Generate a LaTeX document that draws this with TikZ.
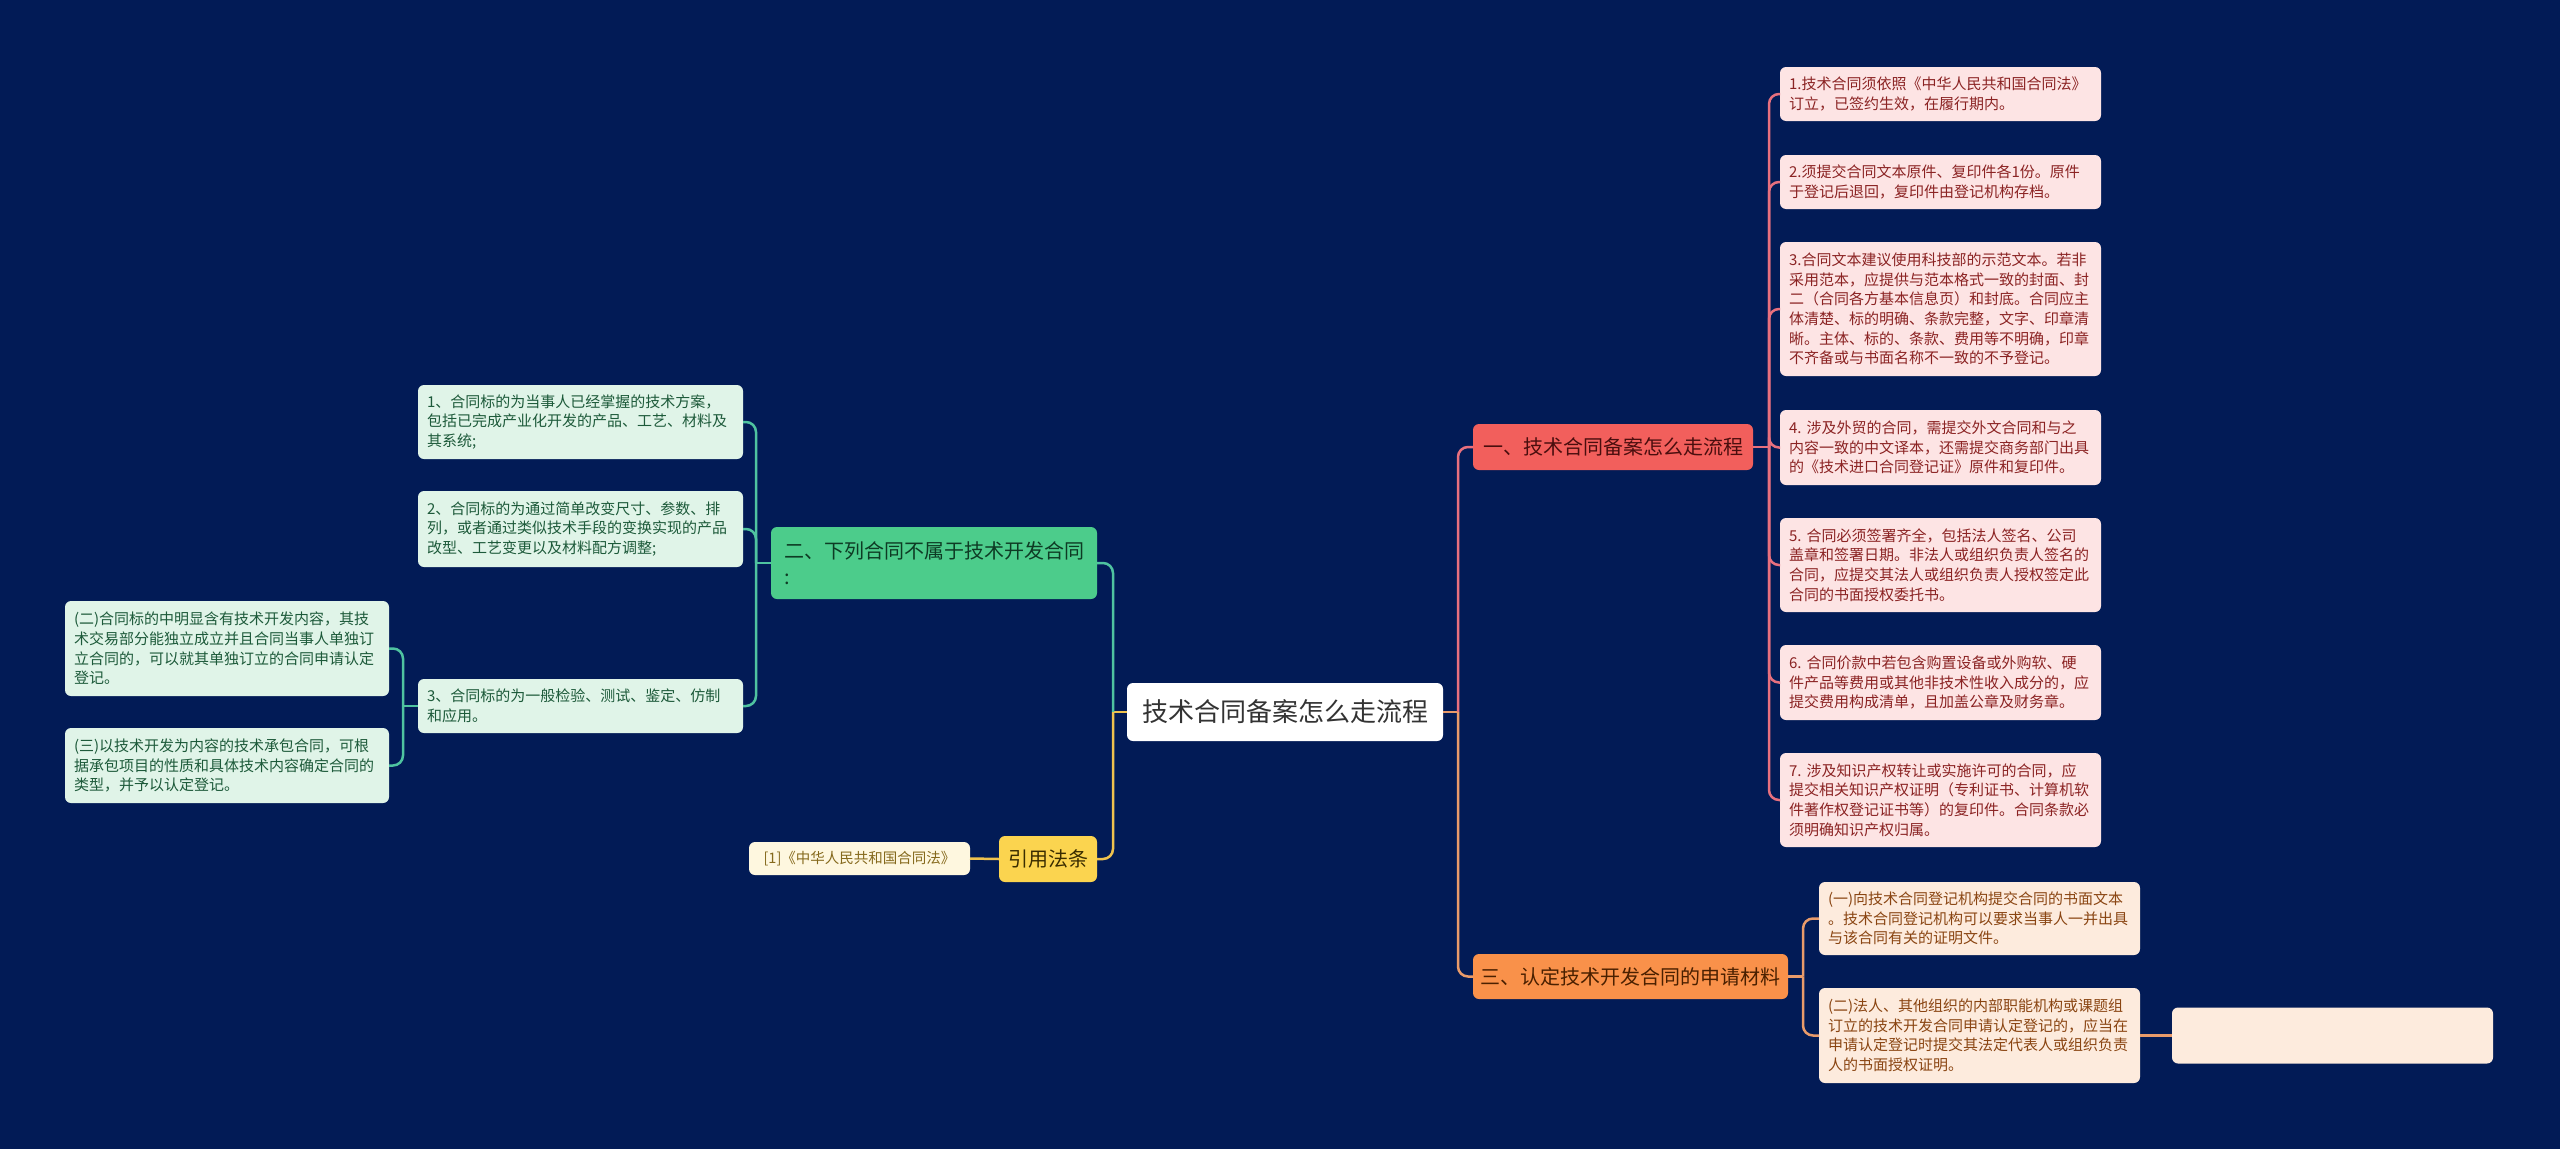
\documentclass[tikz,border=0pt]{standalone}
\usepackage{fontspec}
\setmainfont{Noto Sans CJK SC}
\definecolor{bg}{HTML}{021B56}
\definecolor{rootText}{HTML}{333333}
\definecolor{redFill}{HTML}{F25F5C}
\definecolor{redText}{HTML}{4A0E0E}
\definecolor{redLeaf}{HTML}{FDE4E4}
\definecolor{redLeafText}{HTML}{8B2323}
\definecolor{redLine}{HTML}{E8707E}
\definecolor{orFill}{HTML}{F9914A}
\definecolor{orText}{HTML}{4A2000}
\definecolor{orLeaf}{HTML}{FDEBDD}
\definecolor{orLeafText}{HTML}{8A4512}
\definecolor{orLine}{HTML}{E99B6A}
\definecolor{grFill}{HTML}{4CCC8B}
\definecolor{grText}{HTML}{0E3B24}
\definecolor{grLeaf}{HTML}{E0F4E8}
\definecolor{grLeafText}{HTML}{1D5A3A}
\definecolor{grLine}{HTML}{4FC3A0}
\definecolor{yeFill}{HTML}{FBD44F}
\definecolor{yeText}{HTML}{3A2D00}
\definecolor{yeLeaf}{HTML}{FEF7DF}
\definecolor{yeLeafText}{HTML}{85691C}
\definecolor{yeLine}{HTML}{EFC24E}
\tikzset{
  boxbase/.style={rectangle, rounded corners=6pt, inner ysep=0pt, outer sep=0pt, anchor=west},
  rootbox/.style={boxbase, fill=white, text=rootText, inner xsep=0pt, align=center,
    font=\fontsize{26}{32}\selectfont, minimum height=58pt},
  branchbox/.style={boxbase, inner xsep=0pt, align=center, font=\fontsize{20}{26}\selectfont, minimum height=46pt},
  leafbox/.style={boxbase, inner xsep=9pt, align=left, font=\fontsize{15}{19.6}\selectfont},
  redleaf/.style={leafbox, fill=redLeaf, text=redLeafText, text width=303pt},
  orleaf/.style={leafbox, fill=orLeaf, text=orLeafText, text width=303pt},
  grleaf/.style={leafbox, fill=grLeaf, text=grLeafText},
  conn/.style={line width=2.5pt, rounded corners=10pt},
}
\begin{document}
\begin{tikzpicture}[x=1pt,y=-1pt]
\fill[bg] (0,0) rectangle (2560,1149);
\useasboundingbox (0,0) rectangle (2560,1149);

% root
\node[rootbox, text width=316pt] (root) at (1127,712) {技术合同备案怎么走流程};

% branches
\node[branchbox, fill=redFill, text=redText, text width=280pt] (R) at (1473,447) {一、技术合同备案怎么走流程};
\node[branchbox, fill=orFill, text=orText, text width=315pt, minimum height=45pt] (O) at (1473,976.5) {三、认定技术开发合同的申请材料};
\node[branchbox, fill=grFill, text=grText, align=left, inner xsep=13pt, text width=300pt, minimum height=72pt] (G) at (771,563) {二、下列合同不属于技术开发合同\\:};
\node[branchbox, fill=yeFill, text=yeText, text width=98pt] (Y) at (999,859) {引用法条};

% red leaves
\node[redleaf, minimum height=54pt] (L1) at (1780,94) {1.技术合同须依照《中华人民共和国合同法》\\订立，已签约生效，在履行期内。};
\node[redleaf, minimum height=54pt] (L2) at (1780,182) {2.须提交合同文本原件、复印件各1份。原件\\于登记后退回，复印件由登记机构存档。};
\node[redleaf, minimum height=134pt] (L3) at (1780,309) {3.合同文本建议使用科技部的示范文本。若非\\采用范本，应提供与范本格式一致的封面、封\\二（合同各方基本信息页）和封底。合同应主\\体清楚、标的明确、条款完整，文字、印章清\\晰。主体、标的、条款、费用等不明确，印章\\不齐备或与书面名称不一致的不予登记。};
\node[redleaf, minimum height=75pt] (L4) at (1780,447.5) {4.~涉及外贸的合同，需提交外文合同和与之\\内容一致的中文译本，还需提交商务部门出具\\的《技术进口合同登记证》原件和复印件。};
\node[redleaf, minimum height=94pt] (L5) at (1780,565) {5.~合同必须签署齐全，包括法人签名、公司\\盖章和签署日期。非法人或组织负责人签名的\\合同，应提交其法人或组织负责人授权签定此\\合同的书面授权委托书。};
\node[redleaf, minimum height=75pt] (L6) at (1780,682.5) {6.~合同价款中若包含购置设备或外购软、硬\\件产品等费用或其他非技术性收入成分的，应\\提交费用构成清单，且加盖公章及财务章。};
\node[redleaf, minimum height=94pt] (L7) at (1780,800) {7.~涉及知识产权转让或实施许可的合同，应\\提交相关知识产权证明（专利证书、计算机软\\件著作权登记证书等）的复印件。合同条款必\\须明确知识产权归属。};

% orange leaves
\node[orleaf, minimum height=73pt] (O1) at (1819,918.5) {(一)向技术合同登记机构提交合同的书面文本\\。技术合同登记机构可以要求当事人一并出具\\与该合同有关的证明文件。};
\node[orleaf, minimum height=95pt] (O2) at (1819,1035.5) {(二)法人、其他组织的内部职能机构或课题组\\订立的技术开发合同申请认定登记的，应当在\\申请认定登记时提交其法定代表人或组织负责\\人的书面授权证明。};
\node[orleaf, minimum height=56pt] (O3) at (2172,1035.5) {};

% green leaves
\node[grleaf, text width=307pt, minimum height=74pt] (G1) at (418,422) {1、合同标的为当事人已经掌握的技术方案，\\包括已完成产业化开发的产品、工艺、材料及\\其系统;};
\node[grleaf, text width=307pt, minimum height=76pt] (G2) at (418,529) {2、合同标的为通过简单改变尺寸、参数、排\\列，或者通过类似技术手段的变换实现的产品\\改型、工艺变更以及材料配方调整;};
\node[grleaf, text width=307pt, minimum height=54pt] (G3) at (418,706) {3、合同标的为一般检验、测试、鉴定、仿制\\和应用。};
\node[grleaf, text width=306pt, minimum height=95pt] (G31) at (65,648.5) {(二)合同标的中明显含有技术开发内容，其技\\术交易部分能独立成立并且合同当事人单独订\\立合同的，可以就其单独订立的合同申请认定\\登记。};
\node[grleaf, text width=306pt, minimum height=75pt] (G32) at (65,765.5) {(三)以技术开发为内容的技术承包合同，可根\\据承包项目的性质和具体技术内容确定合同的\\类型，并予以认定登记。};

% yellow leaf
\node[boxbase, fill=yeLeaf, text=yeLeafText, inner xsep=0pt, align=center, text width=221pt, minimum height=33pt, font=\fontsize{14.5}{18}\selectfont] (Y1) at (749,858.5) {[1]《中华人民共和国合同法》};

% spine coordinates
\coordinate (sRootR) at ([xshift=15pt]root.east);
\coordinate (sRootL) at ([xshift=-14pt]root.west);
\coordinate (sR) at ([xshift=16pt]R.east);
\coordinate (sO) at ([xshift=15pt]O.east);
\coordinate (sG) at ([xshift=-15pt]G.west);
\coordinate (sG3) at ([xshift=-15pt]G3.west);

% root connectors
\draw[conn, orLine] (root.east) -- (sRootR);
\draw[conn, redLine] (R.west) -| (sRootR);
\draw[conn, orLine] (O.west) -| (sRootR);
\draw[conn, yeLine] (root.west) -- (sRootL);
\draw[conn, grLine] (G.east) -| (sRootL);
\draw[conn, yeLine] (Y.east) -| (sRootL);

% red
\draw[conn, redLine] (R.east) -- (sR);
\foreach \n in {L1,L2,L3,L4,L5,L6,L7} { \draw[conn, redLine] (\n.west) -| (sR); }
% orange
\draw[conn, orLine] (O.east) -- (sO);
\draw[conn, orLine] (O1.west) -| (sO);
\draw[conn, orLine] (O2.west) -| (sO);
\draw[conn, orLine] (O2.east) -- (O3.west);
% green
\draw[conn, grLine] (G.west) -- (sG);
\foreach \n in {G1,G2,G3} { \draw[conn, grLine] (\n.east) -| (sG); }
\draw[conn, grLine] (G3.west) -- (sG3);
\draw[conn, grLine] (G31.east) -| (sG3);
\draw[conn, grLine] (G32.east) -| (sG3);
% yellow
\draw[conn, yeLine] (Y.west) -- (Y1.east);
\end{tikzpicture}
\end{document}
